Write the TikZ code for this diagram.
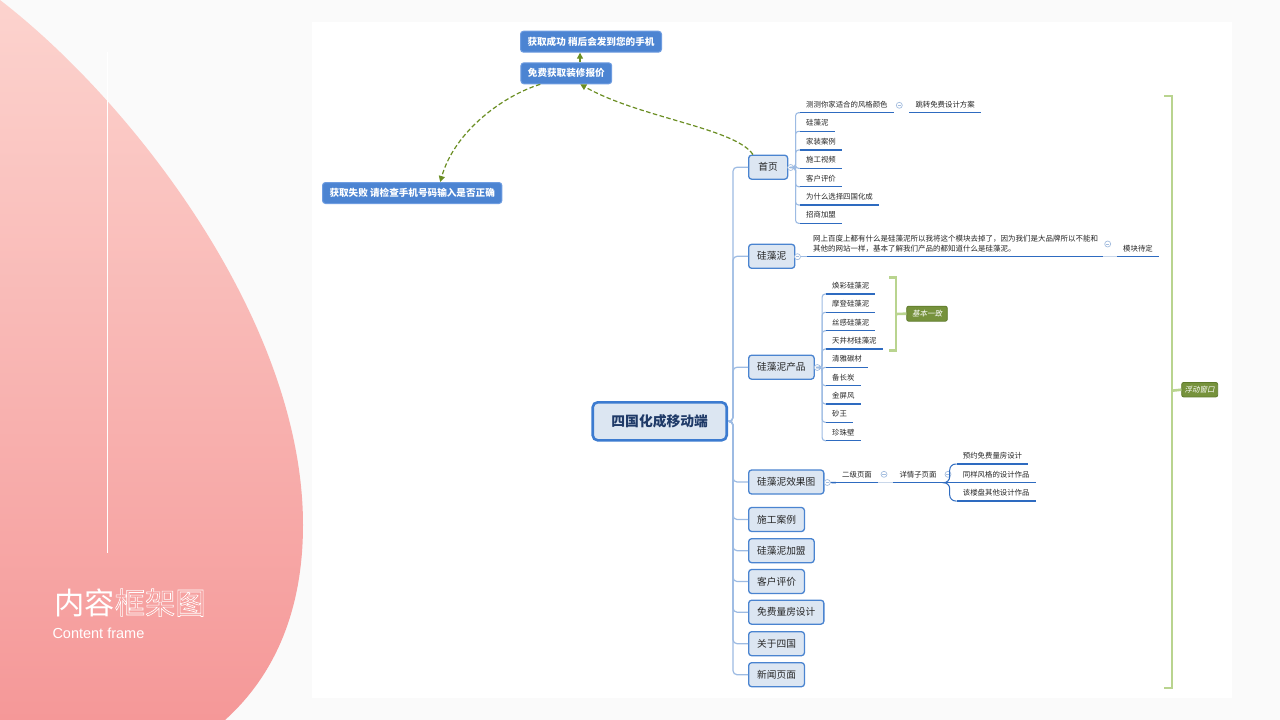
\documentclass[tikz,border=0pt]{standalone}
\usepackage{fontspec}
\setmainfont{Noto Sans CJK SC}
\newfontfamily\slantcjk[FakeSlant=0.2]{Noto Sans CJK SC}
\newfontfamily\latinsans{Liberation Sans}
\usetikzlibrary{arrows.meta}
\newcommand{\outlinetext}[1]{\special{pdf:literal direct 1 Tr 0.6 w}#1\special{pdf:literal direct 0 Tr}}
\definecolor{bgc}{HTML}{FAFAFA}
\definecolor{pinkTop}{HTML}{FCD3CE}
\definecolor{pinkBot}{HTML}{F59898}
\definecolor{nodefill}{HTML}{DCE6F2}
\definecolor{nodeborder}{HTML}{4A84D0}
\definecolor{rootborder}{HTML}{3C7BD0}
\definecolor{roottext}{HTML}{1F3A68}
\definecolor{trunkc}{HTML}{9DBBE3}
\definecolor{ulinec}{HTML}{2E6BC0}
\definecolor{lightseg}{HTML}{C9D7EA}
\definecolor{bluefill}{HTML}{4C84D2}
\definecolor{blueborder}{HTML}{6E9CE0}
\definecolor{bracketc}{HTML}{B9D48F}
\definecolor{tagfill}{HTML}{76923C}
\definecolor{tagborder}{HTML}{5E7A2B}
\definecolor{arrowc}{HTML}{6B8E23}
\definecolor{markc}{HTML}{A5BEDF}
\definecolor{txt}{HTML}{262626}
\begin{document}
\begin{tikzpicture}[x=1pt,y=-1pt,
  branchbox/.style={draw=nodeborder, line width=1.3pt, fill=nodefill, rounded corners=3pt, inner xsep=8.5pt, inner ysep=0pt, minimum height=24pt, minimum width=39pt, font=\fontsize{9.7}{11}\selectfont, text=txt, anchor=west},
  rootbox/.style={draw=rootborder, line width=2.6pt, fill=nodefill, rounded corners=5pt, minimum width=134pt, minimum height=38pt, font=\fontsize{13.8}{16}\selectfont\bfseries, text=roottext},
  bluebox/.style={draw=blueborder, line width=1pt, fill=bluefill, rounded corners=3pt, minimum height=21pt, inner xsep=7pt, inner ysep=0pt, font=\fontsize{9.6}{11}\selectfont\bfseries, text=white},
  leaf/.style={anchor=south west, inner xsep=6pt, inner ysep=4pt, text height=6pt, text depth=1.5pt, font=\fontsize{7.4}{9}\selectfont, text=txt},
  uline/.style={draw=ulinec, line width=1.4pt},
  conn/.style={draw=trunkc, line width=1.1pt, rounded corners=3pt},
  bconn/.style={draw=ulinec, line width=1pt, rounded corners=6pt},
  trunk/.style={draw=trunkc, line width=1.2pt, rounded corners=4pt},
  knob/.style={circle, draw=markc, fill=white, line width=0.7pt, minimum size=6pt, inner sep=0pt, path picture={\draw[markc, line width=0.6pt] ([xshift=-1.6pt]path picture bounding box.center) -- ([xshift=1.6pt]path picture bounding box.center);}},
  tagbox/.style={draw=tagborder, line width=0.8pt, fill=tagfill, rounded corners=2pt, minimum height=15pt, inner xsep=4pt, inner ysep=0pt, font=\slantcjk\fontsize{7.5}{9}\selectfont, text=white},
  bracketline/.style={draw=bracketc, line width=2.6pt},
  dasharrow/.style={draw=arrowc, line width=1.2pt, dash pattern=on 4.5pt off 2.5pt, -{Triangle[length=6pt,width=6pt]}}
]
\useasboundingbox (0,0) rectangle (1280,720);
% background
\fill[bgc] (0,0) rectangle (1280,720);
\fill[white] (312,22) rectangle (1232,698);
\shade[top color=pinkTop, bottom color=pinkBot] (0,0) .. controls (130,100) and (303,320) .. (303,525) .. controls (303,610) and (275,675) .. (225,720) -- (0,720) -- cycle;
\draw[white, line width=1pt] (107,52) -- (107,553);
\node[anchor=west, inner sep=0pt, font=\fontsize{30.3}{32}\selectfont, text=white] (title) at (54,602.5) {内容\outlinetext{框架图}};
\node[anchor=west, inner sep=0pt, font=\latinsans\fontsize{14.5}{16}\selectfont, text=white] (subtitle) at (52.3,633) {Content frame};

% root
\node[rootbox] (root) at (659.7,421.3) {四国化成移动端};

% branches
\node[branchbox] (b1) at (748,167.2) {首页};
\node[branchbox] (b2) at (748,256.3) {硅藻泥};
\node[branchbox] (b3) at (748,367.2) {硅藻泥产品};
\node[branchbox] (b4) at (748,482) {硅藻泥效果图};
\node[branchbox] (b5) at (748,519.5) {施工案例};
\node[branchbox] (b6) at (748,550.7) {硅藻泥加盟};
\node[branchbox] (b7) at (748,581.5) {客户评价};
\node[branchbox] (b8) at (748,612.2) {免费量房设计};
\node[branchbox] (b9) at (748,643.7) {关于四国};
\node[branchbox] (b10) at (748,674.7) {新闻页面};
\foreach \b in {b1,b2,b3,b4,b5,b6,b7,b8,b9,b10}
  \draw[trunk] (root.east) -- ++(5,0) |- (\b.west);

% 首页 leaves
\node[knob] (k1) at (790.7,167.5) {};
\node[leaf] (a1) at (800,112.7) {测测你家适合的风格颜色};
\node[leaf] (a2) at (800,131.3) {硅藻泥};
\node[leaf] (a3) at (800,150) {家装案例};
\node[leaf] (a4) at (800,168.3) {施工视频};
\node[leaf] (a5) at (800,186.7) {客户评价};
\node[leaf] (a6) at (800,205) {为什么选择四国化成};
\node[leaf] (a7) at (800,223.3) {招商加盟};
\node[knob] (k1b) at (899.3,105.3) {};
\node[leaf] (a1b) at (909.3,112.7) {跳转免费设计方案};
\foreach \n in {a1,a2,a3,a4,a5,a6,a7}
  \draw[conn] (k1.east) -- ++(1.5,0) |- (\n.south west);

% 硅藻泥 leaves
\node[knob] (k2) at (797.5,256.7) {};
\node[anchor=south west, inner xsep=6pt, inner ysep=4.5pt, text width=284pt, align=left, font=\fontsize{7.5}{10}\selectfont, text=txt] (L) at (807,256.7) {网上百度上都有什么是硅藻泥所以我将这个模块去掉了，因为我们是大品牌所以不能和\\其他的网站一样，基本了解我们产品的都知道什么是硅藻泥。};
\draw[conn] (k2.east) -- (L.south west);
\node[knob] (k2b) at (1107.7,244) {};
\node[leaf] (mk) at (1117,256.7) {模块待定};
\draw[draw=lightseg, line width=1.4pt] (L.south east) -- (mk.south west);

% 硅藻泥产品 leaves
\node[knob] (k3) at (817.3,367.5) {};
\node[leaf] (p1) at (826,294) {焕彩硅藻泥};
\node[leaf] (p2) at (826,312.3) {摩登硅藻泥};
\node[leaf] (p3) at (826,330.7) {丝感硅藻泥};
\node[leaf] (p4) at (826,349) {天井材硅藻泥};
\node[leaf] (p5) at (826,367.3) {清雅碳材};
\node[leaf] (p6) at (826,385.7) {备长炭};
\node[leaf] (p7) at (826,404) {金屏风};
\node[leaf] (p8) at (826,422.3) {砂王};
\node[leaf] (p9) at (826,440.7) {珍珠壁};
\foreach \n in {p1,p2,p3,p4,p5,p6,p7,p8,p9}
  \draw[conn] (k3.east) -- ++(1.5,0) |- (\n.south west);
% bracket 基本一致
\coordinate (bt1) at (889,277.5);
\coordinate (bt2) at (896,277.5);
\coordinate (bb2) at (896,350.5);
\coordinate (bb1) at (889,350.5);
\coordinate (bm) at (896,314);
\draw[bracketline] (bt1) -- (bt2) -- (bb2) -- (bb1);
\node[tagbox, minimum width=40.6pt] (jb) at (927,313.7) {基本一致};
\draw[bracketline] (bm) -- (jb.west);

% 硅藻泥效果图 leaves
\node[knob] (k4) at (827.3,482.5) {};
\node[leaf] (e1) at (836,482.7) {二级页面};
\draw[uline] (k4.east) -- (e1.south west);
\node[knob] (k4b) at (884,474.3) {};
\node[leaf] (e2) at (893.3,482.7) {详情子页面};
\draw[draw=lightseg, line width=1.4pt] (e1.south east) -- (e2.south west);
\node[knob] (k4c) at (948,474.3) {};
\node[leaf] (f1) at (956.7,464) {预约免费量房设计};
\node[leaf] (f2) at (956.7,482.7) {同样风格的设计作品};
\node[leaf] (f3) at (956.7,501) {该楼盘其他设计作品};
\draw[bconn] (e2.south east) -- ++(7,0) |- (f1.south west);
\draw[bconn] (e2.south east) -- (f2.south west);
\draw[bconn] (e2.south east) -- ++(7,0) |- (f3.south west);

% underlines
\foreach \n in {a1,a2,a3,a4,a5,a6,a7,a1b,L,mk,p1,p2,p3,p4,p5,p6,p7,p8,p9,e1,e2,f1,f2,f3}
  \draw[uline] (\n.south west) -- (\n.south east);

% right bracket 浮动窗口
\coordinate (rt1) at (1164,96);
\coordinate (rt2) at (1172,96);
\coordinate (rb2) at (1172,688);
\coordinate (rb1) at (1164,688);
\coordinate (rm) at (1172,390.7);
\draw[bracketline] (rt1) -- (rt2) -- (rb2) -- (rb1);
\node[tagbox, minimum width=36pt, minimum height=14.5pt, inner xsep=3pt] (fd) at (1199.7,389.7) {浮动窗口};
\draw[bracketline] (rm) -- (fd.west);

% blue boxes
\node[bluebox] (ok) at (591,41.7) {获取成功 稍后会发到您的手机};
\node[bluebox] (mf) at (566.3,73.3) {免费获取装修报价};
\node[bluebox] (fail) at (412.2,193) {获取失败 请检查手机号码输入是否正确};
\coordinate (ax) at (580,0);
\coordinate (c1a) at (735,128);
\coordinate (c1b) at (640,118);
\coordinate (c2a) at (505,95);
\coordinate (c2b) at (455,130);
\draw[dasharrow] ([xshift=5pt]b1.north west) .. controls (c1a) and (c1b) .. ([xshift=14pt]mf.south);
\draw[dasharrow] ([xshift=-26pt]mf.south) .. controls (c2a) and (c2b) .. ([xshift=28pt]fail.north);
\draw[dasharrow] (mf.north -| ax) -- (ok.south -| ax);
\end{tikzpicture}
\end{document}
